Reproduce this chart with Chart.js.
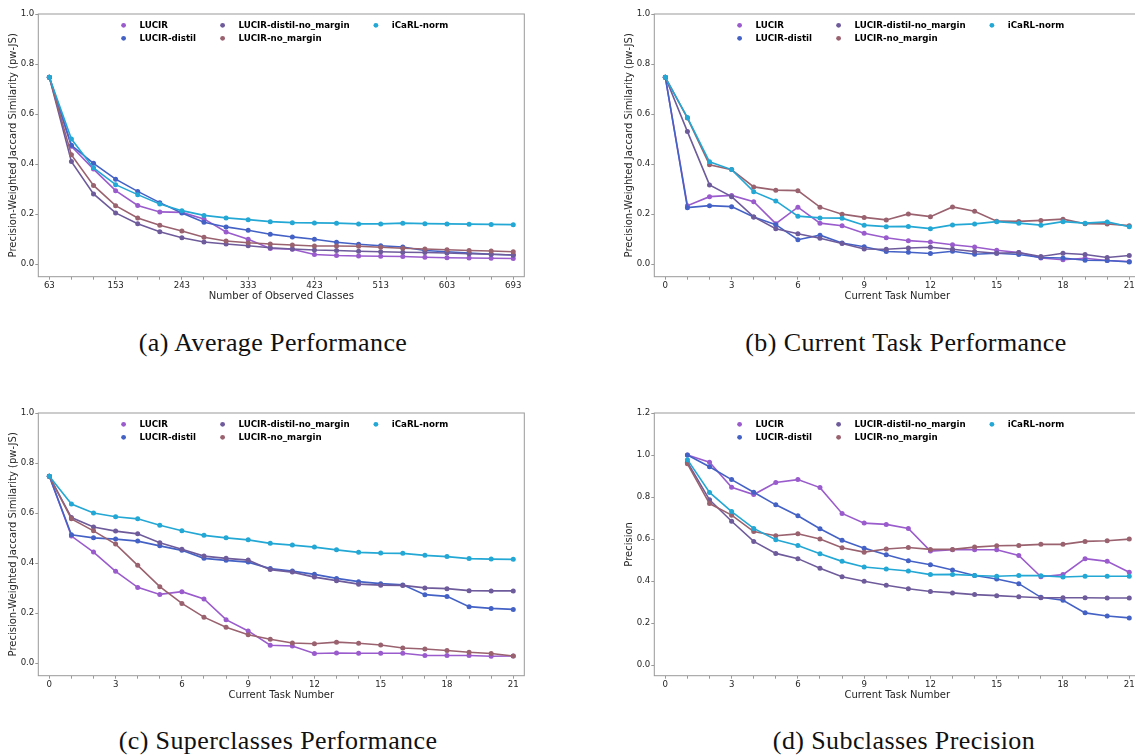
<!DOCTYPE html>
<html>
<head>
<meta charset="utf-8">
<script src="https://cdn.jsdelivr.net/npm/chart.js@4.4.0/dist/chart.umd.min.js"></script>
<style>
    html, body { margin: 0; padding: 0; background: #fff; width: 1135px; height: 755px; overflow: hidden; }
    .panel { position: absolute; width: 540px; height: 307px; }
    .caption {
        position: absolute;
        font-family: "Liberation Serif", "DejaVu Serif", serif;
        font-size: 26px;
        letter-spacing: 0.4px;
        color: #111;
        white-space: nowrap;
        transform: translate(-50%, -50%);
    }
</style>
</head>
<body>
<div class="panel" style="left:0px; top:0px;"><canvas id="chartA"></canvas></div>
<div class="panel" style="left:616px; top:0px;"><canvas id="chartB"></canvas></div>
<div class="panel" style="left:0px; top:399px;"><canvas id="chartC"></canvas></div>
<div class="panel" style="left:616px; top:399px;"><canvas id="chartD"></canvas></div>

<div class="caption" style="left:273px; top:343px;">(a) Average Performance</div>
<div class="caption" style="left:906px; top:343px;">(b) Current Task Performance</div>
<div class="caption" style="left:278px; top:741px;">(c) Superclasses Performance</div>
<div class="caption" style="left:904px; top:741px;">(d) Subclasses Precision</div>

<script>
// Series names and colours (legend order)
const seriesNames = ['LUCIR', 'LUCIR-distil', 'LUCIR-distil-no_margin', 'LUCIR-no_margin', 'iCaRL-norm'];
const seriesColors = ['#9a5ccc', '#4462c6', '#6e5b9b', '#9a626f', '#23a7d4'];

// x categories
const observedClasses = [63, 93, 123, 153, 183, 213, 243, 273, 303, 333, 363, 393, 423, 453, 483, 513, 543, 573, 603, 633, 663, 693];
const taskNumbers = [0, 1, 2, 3, 4, 5, 6, 7, 8, 9, 10, 11, 12, 13, 14, 15, 16, 17, 18, 19, 20, 21];

// y ticks
const jsTicks = [0.0, 0.2, 0.4, 0.6, 0.8, 1.0];
const precisionTicks = [0.0, 0.2, 0.4, 0.6, 0.8, 1.0, 1.2];

// (a) Average Performance
const avgLucir          = [0.747, 0.471, 0.380, 0.294, 0.235, 0.209, 0.207, 0.181, 0.129, 0.100, 0.063, 0.060, 0.039, 0.035, 0.033, 0.032, 0.031, 0.028, 0.026, 0.025, 0.024, 0.023];
const avgDistil         = [0.747, 0.475, 0.403, 0.340, 0.291, 0.246, 0.205, 0.168, 0.149, 0.136, 0.120, 0.109, 0.100, 0.088, 0.080, 0.074, 0.069, 0.055, 0.050, 0.045, 0.040, 0.037];
const avgDistilNoMargin = [0.747, 0.410, 0.281, 0.205, 0.162, 0.130, 0.106, 0.089, 0.081, 0.074, 0.066, 0.061, 0.057, 0.055, 0.052, 0.050, 0.048, 0.047, 0.045, 0.042, 0.040, 0.037];
const avgNoMargin       = [0.747, 0.437, 0.315, 0.234, 0.185, 0.156, 0.133, 0.108, 0.093, 0.086, 0.081, 0.077, 0.073, 0.073, 0.072, 0.068, 0.064, 0.061, 0.058, 0.055, 0.053, 0.050];
const avgIcarl          = [0.747, 0.500, 0.385, 0.318, 0.278, 0.241, 0.214, 0.195, 0.185, 0.178, 0.170, 0.166, 0.165, 0.164, 0.161, 0.161, 0.164, 0.162, 0.161, 0.160, 0.159, 0.158];

// (b) Current Task Performance
const curLucir          = [0.747, 0.234, 0.270, 0.275, 0.250, 0.162, 0.228, 0.164, 0.154, 0.124, 0.106, 0.094, 0.089, 0.078, 0.069, 0.056, 0.047, 0.025, 0.018, 0.024, 0.015, 0.011];
const curDistil         = [0.747, 0.226, 0.234, 0.230, 0.189, 0.158, 0.098, 0.116, 0.085, 0.070, 0.051, 0.048, 0.043, 0.052, 0.040, 0.044, 0.039, 0.027, 0.025, 0.016, 0.015, 0.009];
const curDistilNoMargin = [0.747, 0.530, 0.317, 0.270, 0.189, 0.142, 0.122, 0.104, 0.083, 0.061, 0.060, 0.065, 0.068, 0.060, 0.051, 0.044, 0.047, 0.031, 0.044, 0.039, 0.027, 0.035];
const curNoMargin       = [0.747, 0.584, 0.397, 0.378, 0.309, 0.296, 0.294, 0.228, 0.200, 0.187, 0.177, 0.201, 0.190, 0.229, 0.212, 0.172, 0.171, 0.175, 0.180, 0.162, 0.161, 0.154];
const curIcarl          = [0.747, 0.586, 0.409, 0.378, 0.290, 0.253, 0.192, 0.185, 0.184, 0.156, 0.150, 0.151, 0.142, 0.157, 0.161, 0.170, 0.164, 0.156, 0.170, 0.164, 0.169, 0.150];

// (c) Superclasses Performance
const supLucir          = [0.747, 0.508, 0.444, 0.367, 0.303, 0.275, 0.286, 0.257, 0.174, 0.129, 0.072, 0.069, 0.039, 0.041, 0.040, 0.040, 0.040, 0.031, 0.031, 0.031, 0.028, 0.029];
const supDistil         = [0.747, 0.513, 0.501, 0.496, 0.488, 0.469, 0.451, 0.419, 0.411, 0.404, 0.378, 0.368, 0.355, 0.339, 0.326, 0.318, 0.313, 0.274, 0.267, 0.226, 0.219, 0.215];
const supDistilNoMargin = [0.747, 0.582, 0.544, 0.528, 0.517, 0.481, 0.455, 0.428, 0.419, 0.412, 0.374, 0.364, 0.344, 0.330, 0.316, 0.312, 0.311, 0.301, 0.298, 0.290, 0.289, 0.289];
const supNoMargin       = [0.747, 0.577, 0.529, 0.476, 0.391, 0.306, 0.239, 0.184, 0.144, 0.114, 0.096, 0.081, 0.078, 0.084, 0.080, 0.073, 0.061, 0.057, 0.051, 0.044, 0.039, 0.029];
const supIcarl          = [0.747, 0.636, 0.600, 0.585, 0.577, 0.551, 0.529, 0.511, 0.501, 0.493, 0.479, 0.472, 0.464, 0.453, 0.443, 0.440, 0.439, 0.431, 0.426, 0.418, 0.416, 0.415];

// (d) Subclasses Precision (no value at task 0)
const subLucir          = [null, 1.000, 0.966, 0.847, 0.812, 0.869, 0.883, 0.845, 0.722, 0.676, 0.670, 0.651, 0.543, 0.549, 0.549, 0.549, 0.522, 0.421, 0.431, 0.507, 0.494, 0.442];
const subDistil         = [null, 1.000, 0.944, 0.883, 0.823, 0.763, 0.711, 0.649, 0.595, 0.557, 0.526, 0.497, 0.478, 0.453, 0.427, 0.410, 0.388, 0.323, 0.309, 0.249, 0.234, 0.225];
const subDistilNoMargin = [null, 0.966, 0.787, 0.685, 0.589, 0.532, 0.507, 0.461, 0.421, 0.399, 0.380, 0.364, 0.351, 0.344, 0.336, 0.331, 0.326, 0.321, 0.321, 0.321, 0.320, 0.320];
const subNoMargin       = [null, 0.958, 0.769, 0.714, 0.636, 0.616, 0.625, 0.600, 0.559, 0.538, 0.553, 0.560, 0.551, 0.551, 0.562, 0.568, 0.570, 0.575, 0.575, 0.589, 0.592, 0.600];
const subIcarl          = [null, 0.978, 0.822, 0.731, 0.651, 0.597, 0.570, 0.530, 0.494, 0.467, 0.458, 0.448, 0.431, 0.432, 0.427, 0.423, 0.427, 0.426, 0.420, 0.423, 0.423, 0.423];

// Shared look
Chart.defaults.font.family = '"DejaVu Sans", sans-serif';
const axisGray = '#999999';
const textColor = '#262626';
const layout = { yAxisWidth: 38.3, xAxisHeight: 30.3, padTop: 14, padRight: 15.7 };
const legendCols = [85.3, 184.3, 337.6];
const legendRows = [11.3, 24.3];

// Box around the plot area (matplotlib spines)
const framePlugin = {
    id: 'frame',
    afterDraw(chart) {
        const { ctx, chartArea } = chart;
        ctx.save();
        ctx.strokeStyle = axisGray;
        ctx.lineWidth = 1;
        ctx.strokeRect(chartArea.left, chartArea.top, chartArea.right - chartArea.left, chartArea.bottom - chartArea.top);
        ctx.restore();
    }
};

// Three-column legend inside the axes, filled column by column
const legendPlugin = {
    id: 'mplLegend',
    afterDraw(chart) {
        const { ctx, chartArea } = chart;
        ctx.save();
        ctx.font = 'bold 8.7px "DejaVu Sans"';
        ctx.textBaseline = 'middle';
        chart.data.datasets.forEach((ds, i) => {
            const x = chartArea.left + legendCols[Math.floor(i / 2)];
            const y = chartArea.top + legendRows[i % 2];
            ctx.fillStyle = ds.borderColor;
            ctx.beginPath();
            ctx.arc(x, y, 2.4, 0, Math.PI * 2);
            ctx.fill();
            ctx.fillStyle = '#000';
            ctx.fillText(ds.label, x + 15.8, y);
        });
        ctx.restore();
    }
};

function makePanel(canvasId, labels, series, yTicks, yMax, yTitle, xTitle) {
    const datasets = series.map((values, i) => ({
        label: seriesNames[i],
        data: values,
        borderColor: seriesColors[i],
        backgroundColor: seriesColors[i],
        pointBackgroundColor: seriesColors[i],
        borderWidth: 1.6,
        pointRadius: 2.5,
        pointBorderWidth: 0,
        tension: 0,
        order: series.length - i
    }));

    return new Chart(document.getElementById(canvasId), {
        type: 'line',
        data: { labels: labels, datasets: datasets },
        options: {
            responsive: true,
            maintainAspectRatio: false,
            animation: false,
            events: [],
            layout: { padding: { top: layout.padTop, right: layout.padRight, left: 0, bottom: 0 } },
            plugins: { legend: { display: false }, tooltip: { enabled: false } },
            scales: {
                x: {
                    type: 'category',
                    offset: true,
                    grid: { drawOnChartArea: false, drawTicks: true, tickLength: 3, color: axisGray, offset: false },
                    border: { display: false },
                    ticks: {
                        autoSkip: false,
                        maxRotation: 0,
                        padding: 1,
                        color: textColor,
                        font: { size: 8.6 },
                        callback: function(value, index) {
                            return index % 3 === 0 ? this.getLabelForValue(value) : '';
                        }
                    },
                    title: { display: true, text: xTitle, color: textColor, font: { size: 10 }, padding: { top: 0, bottom: 4.2 } },
                    afterFit: s => { s.height = layout.xAxisHeight; }
                },
                y: {
                    min: -0.05,
                    max: yMax,
                    afterBuildTicks: s => { s.ticks = yTicks.map(v => ({ value: v })); },
                    grid: { drawOnChartArea: false, drawTicks: true, tickLength: 3, color: axisGray },
                    border: { display: false },
                    ticks: {
                        padding: 1,
                        color: textColor,
                        font: { size: 8.6 },
                        callback: v => v.toFixed(1)
                    },
                    title: { display: true, text: yTitle, color: textColor, font: { size: 10 }, padding: { top: 7.6, bottom: 0 } },
                    afterFit: s => { s.width = layout.yAxisWidth; }
                }
            }
        },
        plugins: [framePlugin, legendPlugin]
    });
}

const jsTitle = 'Precision-Weighted Jaccard Similarity (pw-JS)';

makePanel('chartA', observedClasses,
    [avgLucir, avgDistil, avgDistilNoMargin, avgNoMargin, avgIcarl],
    jsTicks, 1.0, jsTitle, 'Number of Observed Classes');

makePanel('chartB', taskNumbers,
    [curLucir, curDistil, curDistilNoMargin, curNoMargin, curIcarl],
    jsTicks, 1.0, jsTitle, 'Current Task Number');

makePanel('chartC', taskNumbers,
    [supLucir, supDistil, supDistilNoMargin, supNoMargin, supIcarl],
    jsTicks, 1.0, jsTitle, 'Current Task Number');

makePanel('chartD', taskNumbers,
    [subLucir, subDistil, subDistilNoMargin, subNoMargin, subIcarl],
    precisionTicks, 1.2, 'Precision', 'Current Task Number');
</script>
</body>
</html>
